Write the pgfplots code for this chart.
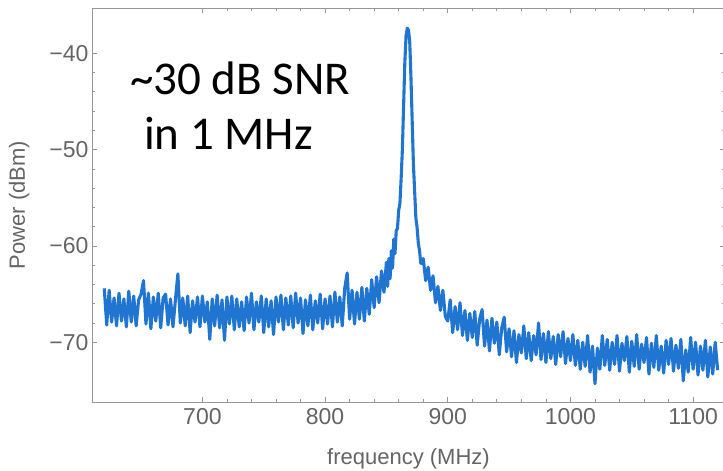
\documentclass[border=0pt]{standalone}
\usepackage{fontspec}
\setmainfont{Liberation Sans}
\newfontfamily\calib{Carlito}
\usepackage{pgfplots}
\pgfplotsset{compat=1.18}
\definecolor{specblue}{RGB}{31,117,208}
\definecolor{framegray}{RGB}{150,150,150}
\definecolor{labgray}{RGB}{100,100,100}
\begin{document}
\begin{tikzpicture}
\begin{axis}[
  scale only axis,
  width=633pt, height=394pt,
  xmin=610, xmax=1126, ymin=-76.2, ymax=-35.3,
  xtick={700,800,900,1000,1100},
  xticklabels={700,800,900,1000,1100},
  ytick={-70,-60,-50,-40},
  yticklabels={−70,−60,−50,−40},
  minor x tick num=4, minor y tick num=4,
  tick align=inside,
  major tick length=5pt, minor tick length=3pt,
  axis line style={framegray, line width=0.9pt},
  every tick/.style={framegray, line width=0.7pt},
  ticklabel style={font=\fontsize{23}{27}\selectfont, text=labgray},
  xticklabel style={yshift=-3pt},
  label style={font=\fontsize{22}{26}\selectfont, text=labgray},
  xlabel={frequency (MHz)},
  ylabel={Power (dBm)},
  xlabel style={at={(axis description cs:0.5,0)}, anchor=base, yshift=-62pt},
  ylabel style={at={(axis description cs:0,0.5)}, anchor=base, yshift=67pt},
]
\addplot[specblue, line width=3.1pt, line join=round] coordinates {
(620,-64.4)(622,-68.2)(624,-64.6)(626,-67.9)(628,-65.4)(630,-68.3)(632,-64.9)(634,-67.8)(636,-65.5)(638,-68.4)
(640,-64.7)(642,-67.9)(644,-65.2)(646,-68.3)(648,-65.6)(650,-65.0)(652,-63.6)(654,-68.1)(656,-64.9)(658,-68.6)
(660,-65.3)(662,-67.8)(664,-64.9)(666,-68.5)(668,-65.4)(670,-65.0)(672,-68.2)(674,-65.5)(676,-68.4)(678,-65.6)
(680,-62.9)(682,-68.0)(684,-65.4)(686,-68.3)(688,-65.2)(690,-69.0)(692,-65.7)(694,-67.9)(696,-65.3)(698,-68.4)
(700,-65.2)(702,-67.9)(704,-65.8)(706,-69.7)(708,-65.5)(710,-68.3)(712,-65.1)(714,-68.5)(716,-65.6)(718,-69.8)
(720,-65.3)(722,-68.1)(724,-65.2)(726,-68.7)(728,-65.5)(730,-68.4)(732,-65.8)(734,-68.8)(736,-65.3)(738,-68.0)
(740,-64.9)(742,-68.7)(744,-65.8)(746,-67.9)(748,-65.2)(750,-69.0)(752,-65.5)(754,-68.4)(756,-65.7)(758,-69.2)
(760,-65.3)(762,-67.9)(764,-65.1)(766,-68.7)(768,-65.4)(770,-68.2)(772,-65.2)(774,-68.5)(776,-64.9)(778,-68.0)
(780,-65.4)(782,-69.1)(784,-65.6)(786,-68.3)(788,-65.1)(790,-68.7)(792,-65.7)(794,-68.0)(796,-65.0)(798,-68.6)
(800,-65.5)(802,-68.1)(804,-65.2)(806,-68.4)(808,-64.8)(810,-67.9)(812,-65.3)(814,-68.3)(816,-64.4)(818,-62.8)
(820,-67.6)(822,-64.6)(824,-68.1)(826,-64.8)(828,-67.6)(830,-64.3)(832,-67.8)(834,-64.4)(836,-67.1)(838,-63.5)
(840,-66.4)(842,-63.2)(844,-65.9)(846,-62.6)(848,-64.8)(850,-61.7)(851,-64.2)(852,-61.3)(853,-63.4)(854,-60.5)
(855,-62.3)(856,-59.3)(857,-60.8)(858,-58.4)(859,-58.2)(860,-56.3)(861,-55.6)(862,-53.0)(863,-50.0)(864,-45.5)
(865,-41.0)(866,-38.2)(867,-37.4)(868,-37.6)(869,-38.8)(870,-42.5)(871,-47.0)(872,-51.5)(873,-54.3)(874,-57.1)
(875,-58.1)(876,-59.7)(877,-60.5)(878,-61.8)(879,-61.8)(880,-61.3)(882,-63.6)(884,-62.2)(886,-64.6)(888,-63.1)
(890,-65.9)(892,-64.2)(894,-66.7)(896,-64.6)(898,-67.3)(900,-67.8)(902,-65.6)(904,-69.0)(906,-66.3)(908,-68.7)
(910,-65.9)(912,-69.3)(914,-66.7)(916,-69.8)(918,-67.0)(920,-69.5)(922,-66.8)(924,-70.3)(926,-67.6)(928,-66.6)
(930,-70.4)(932,-67.7)(934,-70.9)(936,-67.5)(938,-70.1)(940,-67.9)(942,-71.3)(944,-68.5)(946,-67.4)(948,-71.0)
(950,-68.6)(952,-71.5)(954,-68.8)(956,-72.1)(958,-69.2)(960,-71.1)(962,-68.3)(964,-71.7)(966,-69.0)(968,-71.9)
(970,-69.3)(972,-71.3)(974,-68.0)(976,-71.8)(978,-69.1)(980,-72.1)(982,-68.9)(984,-71.7)(986,-69.4)(988,-72.3)
(990,-69.2)(992,-71.5)(994,-68.9)(996,-72.2)(998,-69.6)(1000,-71.9)(1002,-69.2)(1004,-72.4)(1006,-69.8)(1008,-72.8)
(1010,-70.0)(1012,-72.5)(1014,-69.3)(1016,-73.1)(1018,-70.4)(1020,-74.3)(1022,-70.6)(1024,-72.8)(1026,-69.3)(1028,-72.4)
(1030,-69.7)(1032,-72.9)(1034,-70.0)(1036,-72.3)(1038,-69.3)(1040,-73.0)(1042,-70.1)(1044,-71.9)(1046,-69.4)(1048,-73.1)
(1050,-69.9)(1052,-72.5)(1054,-69.2)(1056,-72.8)(1058,-70.2)(1060,-72.1)(1062,-69.5)(1064,-73.3)(1066,-70.1)(1068,-72.6)
(1070,-69.3)(1072,-72.9)(1074,-70.4)(1076,-73.2)(1078,-69.8)(1080,-72.3)(1082,-69.6)(1084,-73.0)(1086,-70.3)(1088,-72.7)
(1090,-69.7)(1092,-74.0)(1094,-70.8)(1096,-73.1)(1098,-69.5)(1100,-72.8)(1102,-70.0)(1104,-73.4)(1106,-70.4)(1108,-72.9)
(1110,-69.8)(1112,-73.6)(1114,-70.5)(1116,-73.3)(1118,-70.0)(1120,-72.9)
};
\end{axis}
\node[anchor=base west, inner sep=0pt, font=\calib\fontsize{47}{56}\selectfont] at (38pt,307pt) {\textasciitilde30 dB SNR};
\node[anchor=base west, inner sep=0pt, font=\calib\fontsize{47}{56}\selectfont] at (52pt,252pt) {in 1 MHz};
\pgfresetboundingbox
\useasboundingbox (-92pt,-69pt) rectangle (631pt,402pt);
\end{tikzpicture}
\end{document}
